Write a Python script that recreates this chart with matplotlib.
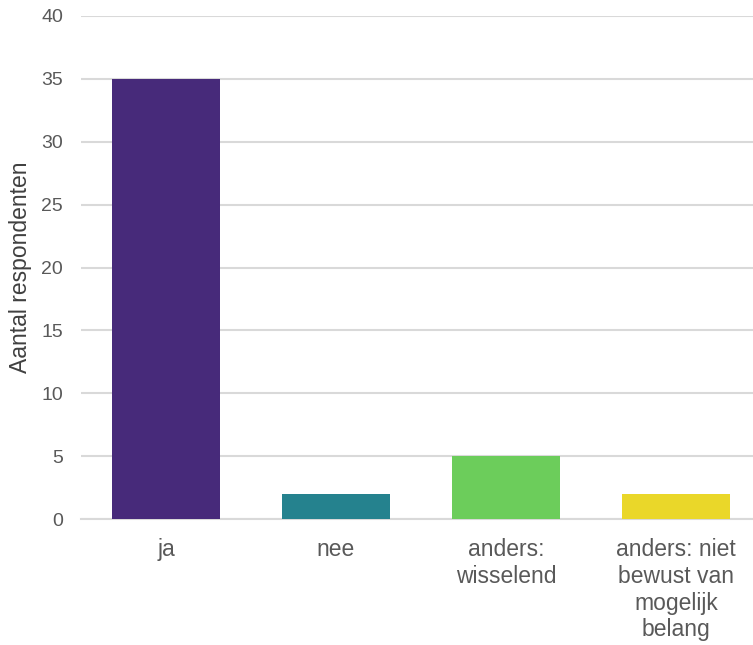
import matplotlib
matplotlib.use("Agg")
import matplotlib.pyplot as plt

categories = ["ja", "nee", "anders:\nwisselend", "anders: niet\nbewust van\nmogelijk\nbelang"]
respondents = [35, 2, 5, 2]
colors = ["#472a7a", "#25828e", "#6ccd5b", "#ead729"]

plt.rcParams["font.family"] = ["Liberation Sans", "DejaVu Sans"]

fig = plt.figure(figsize=(7.53, 6.45), dpi=100)
ax = fig.add_axes([81 / 753, 1 - 519 / 645, 1 - 81 / 753, (519 - 16) / 645])

x = range(len(categories))
ax.bar(x, respondents, width=0.64, color=colors, zorder=3)

ax.set_ylim(0, 40)
ax.set_xlim(-0.5, 3.453)
ax.set_yticks(range(0, 41, 5))
ax.set_xticks(list(x))
ax.set_xticklabels(categories, fontsize=16.5, color="#595959", linespacing=1.2, va="top")
ax.tick_params(axis="y", labelsize=14, labelcolor="#595959", length=0, pad=13)
ax.tick_params(axis="x", length=0, pad=14)

ax.grid(axis="y", color="#d9d9d9", linewidth=1.5, zorder=0)
for side in ["top", "right", "left"]:
    ax.spines[side].set_visible(False)
ax.spines["bottom"].set_color("#d9d9d9")
ax.spines["bottom"].set_linewidth(1.5)

ax.set_ylabel("Aantal respondenten", fontsize=16.5, color="#404040")
ax.yaxis.set_label_coords(-0.073, 0.5)

fig.savefig("out.png", dpi=100)
